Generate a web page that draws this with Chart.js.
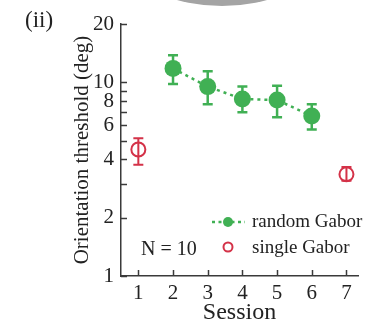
<!DOCTYPE html>
<html>
<head>
<meta charset="utf-8">
<script src="https://cdn.jsdelivr.net/npm/chart.js@4"></script>
<style>
  html, body { margin: 0; padding: 0; background: #fff; }
  #wrap { width: 367px; height: 327px; }
</style>
</head>
<body>
<div id="wrap"><canvas id="myChart" width="367" height="327"></canvas></div>
<script>
// data
const sessions = [1, 2, 3, 4, 5, 6, 7];
const randomX = [2, 3, 4, 5, 6];
const randomMean = [11.8, 9.5, 8.2, 8.1, 6.7];
const randomLo = [9.8, 7.7, 7.0, 6.6, 5.7];
const randomHi = [13.8, 11.4, 9.5, 9.6, 7.7];
const singleX = [1, 7];
const singleMean = [4.5, 3.35];
const singleLo = [3.75, 3.1];
const singleHi = [5.15, 3.65];
const yTickMarks = [1, 2, 3, 4, 5, 6, 7, 8, 9, 10, 20];
const yTickLabels = [1, 2, 4, 6, 8, 10, 20];

const green = "rgb(64,176,84)";
const red = "rgb(212,50,72)";
const ink = "#222";
const axisColor = "#3a3a3a";
const serif = "'Liberation Serif', 'DejaVu Serif', serif";

// error bars, drawn through the scales
const errorBars = {
    id: "errorBars",
    beforeDatasetsDraw(chart) {
        const ctx = chart.ctx;
        const xs = chart.scales.x, ys = chart.scales.y;
        function bars(xv, lo, hi, color, lw) {
            ctx.save();
            ctx.strokeStyle = color;
            ctx.lineWidth = lw;
            for (let i = 0; i < xv.length; i++) {
                const px = xs.getPixelForValue(xv[i]);
                const p1 = ys.getPixelForValue(lo[i]);
                const p2 = ys.getPixelForValue(hi[i]);
                ctx.beginPath();
                ctx.moveTo(px, p1); ctx.lineTo(px, p2);
                ctx.moveTo(px - 5, p1); ctx.lineTo(px + 5, p1);
                ctx.moveTo(px - 5, p2); ctx.lineTo(px + 5, p2);
                ctx.stroke();
            }
            ctx.restore();
        }
        bars(randomX, randomLo, randomHi, green, 2.5);
        bars(singleX, singleLo, singleHi, red, 2);
    }
};

// inward tick marks, legend, annotations
const decorations = {
    id: "decorations",
    beforeDraw(chart) {
        const ctx = chart.ctx;
        // grey shape cut off at the top of the panel
        ctx.save();
        ctx.fillStyle = "#a4a4a4";
        ctx.beginPath();
        ctx.arc(222, -166, 172, 0, Math.PI * 2);
        ctx.fill();
        ctx.restore();
    },
    afterDraw(chart) {
        const ctx = chart.ctx;
        const xs = chart.scales.x, ys = chart.scales.y;
        const area = chart.chartArea;
        ctx.save();
        ctx.strokeStyle = axisColor;
        ctx.lineWidth = 1.5;
        yTickMarks.forEach(v => {
            const py = Math.round(ys.getPixelForValue(v)) + 0.5;
            ctx.beginPath();
            ctx.moveTo(area.left, py);
            ctx.lineTo(area.left + 6, py);
            ctx.stroke();
        });
        sessions.forEach(v => {
            const px = Math.round(xs.getPixelForValue(v)) + 0.5;
            ctx.beginPath();
            ctx.moveTo(px, area.bottom);
            ctx.lineTo(px, area.bottom - 6);
            ctx.stroke();
        });

        // legend
        ctx.strokeStyle = green;
        ctx.lineWidth = 2.5;
        ctx.setLineDash([3, 3.5]);
        ctx.beginPath();
        ctx.moveTo(212, 222); ctx.lineTo(245, 222);
        ctx.stroke();
        ctx.setLineDash([]);
        ctx.fillStyle = green;
        ctx.beginPath();
        ctx.arc(228, 222, 5, 0, Math.PI * 2);
        ctx.fill();
        ctx.strokeStyle = red;
        ctx.lineWidth = 2;
        ctx.beginPath();
        ctx.arc(228, 247, 4.5, 0, Math.PI * 2);
        ctx.stroke();

        ctx.fillStyle = ink;
        ctx.font = "19px " + serif;
        ctx.textBaseline = "middle";
        ctx.textAlign = "left";
        ctx.fillText("random Gabor", 252, 222);
        ctx.fillText("single Gabor", 252, 248);
        ctx.font = "20px " + serif;
        ctx.fillText("N = 10", 141, 250);

        ctx.font = "23px " + serif;
        ctx.fillText("(ii)", 25, 21);
        ctx.restore();
    }
};

const ctx = document.getElementById("myChart").getContext("2d");
const myChart = new Chart(ctx, {
    type: "line",
    data: {
        datasets: [
            {
                label: "random Gabor",
                data: randomX.map((x, i) => ({ x: x, y: randomMean[i] })),
                borderColor: green,
                backgroundColor: green,
                borderWidth: 2.5,
                borderDash: [3, 4],
                pointRadius: 8.5,
                pointBorderWidth: 0,
                pointBackgroundColor: green,
                showLine: true
            },
            {
                label: "single Gabor",
                data: singleX.map((x, i) => ({ x: x, y: singleMean[i] })),
                borderColor: red,
                backgroundColor: "rgba(0,0,0,0)",
                pointRadius: 7,
                pointBorderWidth: 2,
                pointBorderColor: red,
                pointBackgroundColor: "rgba(0,0,0,0)",
                showLine: false
            }
        ]
    },
    options: {
        responsive: false,
        animation: false,
        layout: { padding: { top: 24, left: 60, right: 0, bottom: 0 } },
        plugins: { legend: { display: false }, tooltip: { enabled: false } },
        scales: {
            x: {
                type: "linear",
                min: 0.5,
                max: 7.333,
                afterBuildTicks: s => { s.ticks = sessions.map(v => ({ value: v })); },
                afterFit: s => { s.height = 51; },
                grid: { drawOnChartArea: false, drawTicks: false },
                border: { display: true, color: axisColor, width: 1.5 },
                ticks: {
                    color: ink,
                    padding: 5,
                    maxRotation: 0,
                    font: { family: serif, size: 21 },
                    callback: v => String(v)
                },
                title: {
                    display: true,
                    text: "Session",
                    color: ink,
                    font: { family: serif, size: 24 },
                    padding: { top: 0, bottom: 0 }
                }
            },
            y: {
                type: "logarithmic",
                min: 1,
                max: 20,
                afterBuildTicks: s => { s.ticks = yTickMarks.map(v => ({ value: v })); },
                afterFit: s => { s.width = 61; },
                grid: { drawOnChartArea: false, drawTicks: false },
                border: { display: true, color: axisColor, width: 1.5 },
                ticks: {
                    color: ink,
                    padding: 7,
                    autoSkip: false,
                    font: { family: serif, size: 21 },
                    callback: v => yTickLabels.includes(v) ? String(v) : ""
                },
                title: {
                    display: true,
                    text: "Orientation threshold (deg)",
                    color: ink,
                    font: { family: serif, size: 21 },
                    padding: { top: 10, bottom: 0 }
                }
            }
        }
    },
    plugins: [errorBars, decorations]
});
</script>
</body>
</html>
